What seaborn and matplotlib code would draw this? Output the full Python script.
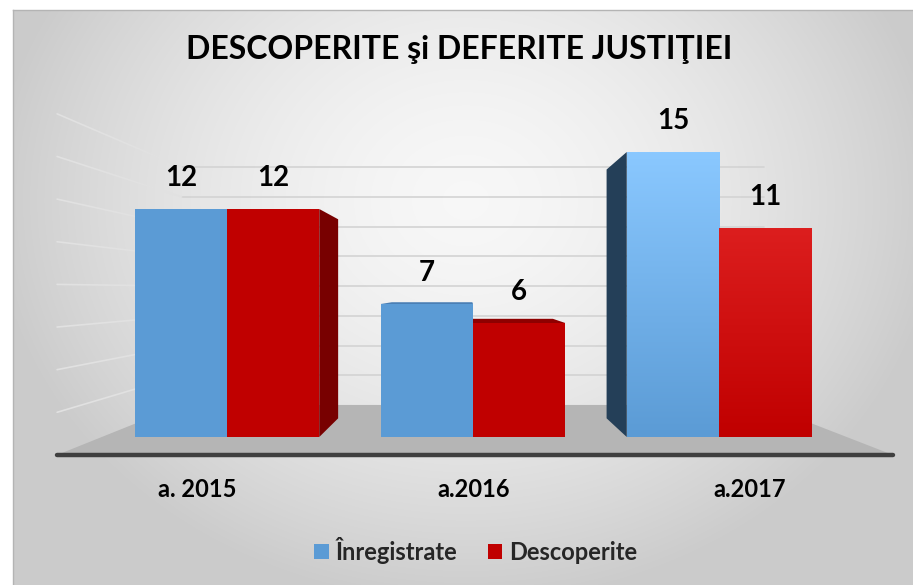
import numpy as np
import pandas as pd
import matplotlib
matplotlib.use('Agg')
import matplotlib.pyplot as plt
from matplotlib.patches import Polygon, Patch
import seaborn as sns

# data
ani = ['a. 2015', 'a.2016', 'a.2017']
inregistrate = [12, 7, 15]
descoperite = [12, 6, 11]
serii = ['Înregistrate', 'Descoperite']
titlu = 'DESCOPERITE şi DEFERITE JUSTIŢIEI'

df = pd.DataFrame({
    'an': ani * 2,
    'serie': [serii[0]] * 3 + [serii[1]] * 3,
    'val': inregistrate + descoperite,
})

culori = {'Înregistrate': '#5b9bd5', 'Descoperite': '#c00000'}
lateral = {'Înregistrate': '#243f58', 'Descoperite': '#780000'}
sus = {'Înregistrate': '#4a7fb5', 'Descoperite': '#8e0000'}
grad_sus = {'Înregistrate': '#8ac8ff', 'Descoperite': '#dc1e1e'}

sns.set_theme(style='white')
plt.rcParams['font.family'] = ['Lato', 'DejaVu Sans']

W, H = 913, 585
fig = plt.figure(figsize=(W / 100, H / 100), dpi=100)
fig.patch.set_facecolor('white')

# chart area background (radial grey gradient)
bg = fig.add_axes([13 / W, 0, (W - 13) / W, (H - 10) / H])
yy, xx = np.mgrid[10:H, 13:W]
r = np.sqrt(((xx - 465) / 470.0) ** 2 + ((yy - 200) / 400.0) ** 2)
g = 0.97 - 0.17 * np.clip(r, 0, 1) ** 1.6
bg.imshow(np.dstack([g, g, g]), extent=(0, 1, 0, 1), aspect='auto', origin='upper')
bg.set_xticks([]); bg.set_yticks([])
for s in ['right', 'bottom']:
    bg.spines[s].set_visible(False)
for s in ['left', 'top']:
    bg.spines[s].set_color('#b4b4b4')
    bg.spines[s].set_linewidth(1)

# main axes: 1 category = 246 px, 1 unit = 19 px
X0, SX, Y0, SY = 227, 246.0, 437, 19.0
ax = fig.add_axes([0, 0, 1, 1])
ax.set_zorder(2)

sns.barplot(data=df, x='an', y='val', hue='serie', hue_order=serii, palette=culori,
            width=0.75, gap=0, saturation=1, errorbar=None, legend=False,
            linewidth=0, zorder=3, ax=ax)
bars = list(ax.patches)

# perspective: vanishing point and depths
vx, vy = (468 - X0) / SX, (Y0 - 290) / SY
t_bar, t_front, t_back = 0.127, -0.122, 0.218
xl, xr = -0.509, 2.519


def proj(x, v, t):
    return x + t * (vx - x), v + t * (vy - v)


# floor
floor = [proj(xl, 0, t_front), proj(xr, 0, t_front), proj(xr, 0, t_back), proj(xl, 0, t_back)]
ax.add_patch(Polygon(floor, closed=True, facecolor='#b5b5b5', edgecolor='none', zorder=1))
ax.plot([floor[0][0], floor[1][0]], [floor[0][1], floor[1][1]], color='#3f3f3f', lw=3.2,
        solid_capstyle='round', zorder=1.2)

# walls grid
for v in np.arange(2, 17, 2):
    a, b = proj(xl, v, t_back), proj(xr, v, t_back)
    ax.plot([a[0], b[0]], [a[1], b[1]], color='#d3d3d3', lw=1.2, zorder=0.8)
    c = proj(xl, v, t_front)
    ax.plot([c[0], a[0]], [c[1], a[1]], color='#e1e1e1', lw=1.2, zorder=0.8)

# 3D faces, gradients, labels
for bar in bars:
    x0, w, h = bar.get_x(), bar.get_width(), bar.get_height()
    x1 = x0 + w
    serie = serii[0] if bar.get_facecolor()[2] > 0.5 else serii[1]
    cat = int(round(x0 + w / 2 + (w / 2 if serie == serii[0] else -w / 2)))
    if x1 < vx:
        face = [(x1, 0), (x1, h), proj(x1, h, t_bar), proj(x1, 0, t_bar)]
        ax.add_patch(Polygon(face, facecolor=lateral[serie], edgecolor='none', zorder=2))
    if x0 > vx:
        face = [(x0, 0), (x0, h), proj(x0, h, t_bar), proj(x0, 0, t_bar)]
        ax.add_patch(Polygon(face, facecolor=lateral[serie], edgecolor='none', zorder=2))
    if h < vy:
        face = [(x0, h), (x1, h), proj(x1, h, t_bar), proj(x0, h, t_bar)]
        ax.add_patch(Polygon(face, facecolor=sus[serie], edgecolor='none', zorder=2.5))
    if cat == len(ani) - 1:
        c_top = np.array(matplotlib.colors.to_rgb(grad_sus[serie]))
        c_bot = np.array(matplotlib.colors.to_rgb(culori[serie]))
        f = np.linspace(0, 1, 200)[:, None]
        grad = (c_bot * (1 - f) + c_top * f)[:, None, :]
        im = ax.imshow(grad, extent=(x0, x1, 0, h), aspect='auto', origin='lower', zorder=3.1)
        im.set_clip_path(bar)
    ax.annotate(f'{h:.0f}', (x0 + w / 2, h), xytext=(0, 22), textcoords='offset points',
                ha='center', va='center', fontsize=20, fontweight='bold', color='black', zorder=5)

# category labels at the floor front edge
for i, an in enumerate(ani):
    p = proj(i, 0, t_front)
    ax.annotate(an, p, xytext=(0, -25), textcoords='offset points', ha='center', va='center',
                fontsize=17, fontweight='bold', color='black')

ax.set_xlim(-X0 / SX, (W - X0) / SX)
ax.set_ylim((Y0 - H) / SY, Y0 / SY)
ax.set_aspect('auto')
ax.axis('off')

fig.text(459 / W, 1 - 49.5 / H, titlu, ha='center', va='center', fontsize=23,
         fontweight='bold', color='black')

handles = [Patch(facecolor=culori[s], edgecolor='none', label=s) for s in serii]
fig.legend(handles=handles, loc='center', bbox_to_anchor=(476 / W, 1 - 550 / H), ncol=2,
           frameon=False, handlelength=0.6, handleheight=0.6, handletextpad=0.3,
           columnspacing=1.3, prop={'size': 17, 'weight': 'bold'})

fig.savefig('out.png', dpi=100)
